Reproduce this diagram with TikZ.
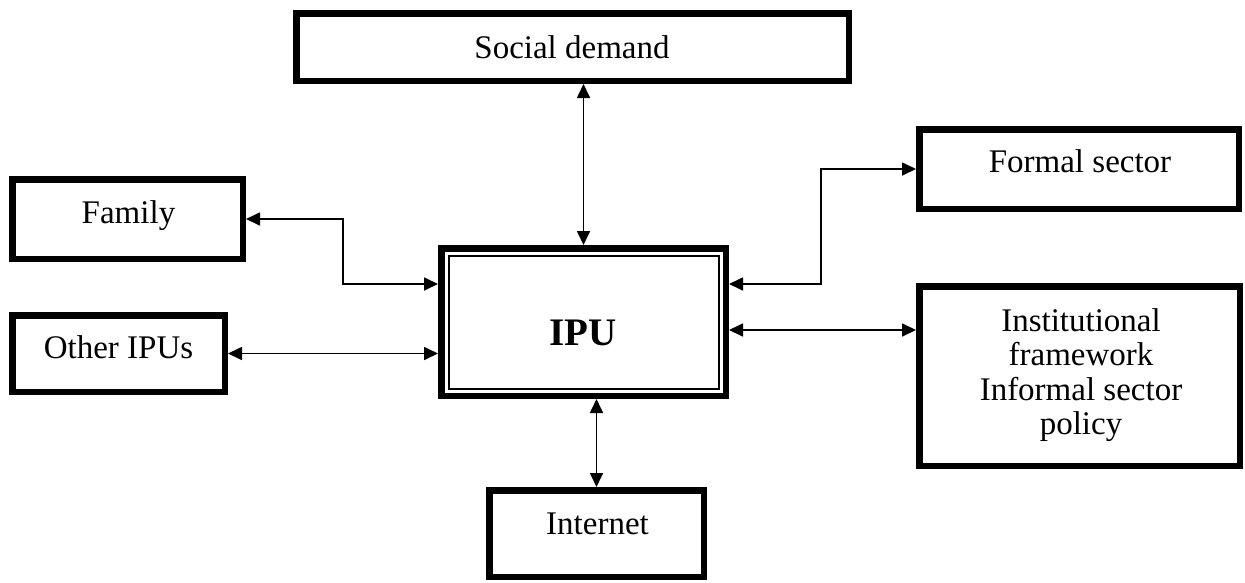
\documentclass[tikz,border=0pt]{standalone}
\usepackage{fontspec}
\setmainfont{Liberation Serif}
\usetikzlibrary{arrows.meta,calc}
\tikzset{
  box/.style={draw=black, line width=6.5pt, rectangle, inner sep=0pt, fill=white},
  txt/.style={inner sep=0pt, anchor=base, font=\fontsize{33}{34.3}\selectfont},
  conn/.style={draw=black, line width=1.7pt, {Triangle[length=14pt,width=13pt]}-{Triangle[length=14pt,width=13pt]}}
}
\begin{document}
\begin{tikzpicture}[x=1pt,y=-1pt]
\useasboundingbox (0,0) rectangle (1245,582);
% boxes (outer sizes minus line width)
\node[box, minimum width=552.5pt, minimum height=67.5pt] (soc) at (572.5,47) {};
\node[box, minimum width=230.5pt, minimum height=79.5pt] (fam) at (127.5,219) {};
\node[box, minimum width=212.5pt, minimum height=76.5pt] (oth) at (118.5,353.5) {};
\node[box, minimum width=284.5pt, minimum height=147.5pt] (ipu) at (583.5,322) {};
\node[box, minimum width=319.5pt, minimum height=79.5pt] (for) at (1079,169) {};
\node[box, minimum width=320.5pt, minimum height=179.5pt] (ins) at (1079.5,376) {};
\node[box, minimum width=214.5pt, minimum height=86.5pt] (int) at (596.5,533.5) {};
% inner line of IPU
\draw[line width=2pt] ([shift={(10.5,10.5)}]ipu.north west) rectangle ([shift={(-10.5,-10.5)}]ipu.south east);
% texts
\node[txt] (socT) at (572,58) {Social demand};
\node[txt] (famT) at (128.5,223) {Family};
\node[txt] (othT) at (118.5,358) {Other IPUs};
\node[txt] (forT) at (1080,172) {Formal sector};
\node[txt, anchor=center, align=center] (insT) at (1081,375) {Institutional\\framework\\Informal sector\\policy};
\node[txt] (intT) at (597.5,534) {Internet};
\node[inner sep=0pt, anchor=base, font=\fontsize{39}{44}\selectfont\bfseries] (ipuT) at (583,345) {IPU};
% connectors
\coordinate (famK) at (343,284);
\coordinate (forK) at (821,284);
\coordinate (insK) at (821,330);
\draw[conn] (soc.south -| ipu.north) -- (ipu.north);
\draw[conn] (fam.east) -| (famK) -- (famK -| ipu.west);
\draw[conn] (oth.east) -- (oth.east -| ipu.west);
\draw[conn] (ipu.east |- forK) -- (forK) |- (for.west);
\draw[conn] (ipu.east |- insK) -- (insK -| ins.west);
\draw[conn] (ipu.south -| int.north) -- (int.north);
\end{tikzpicture}
\end{document}
